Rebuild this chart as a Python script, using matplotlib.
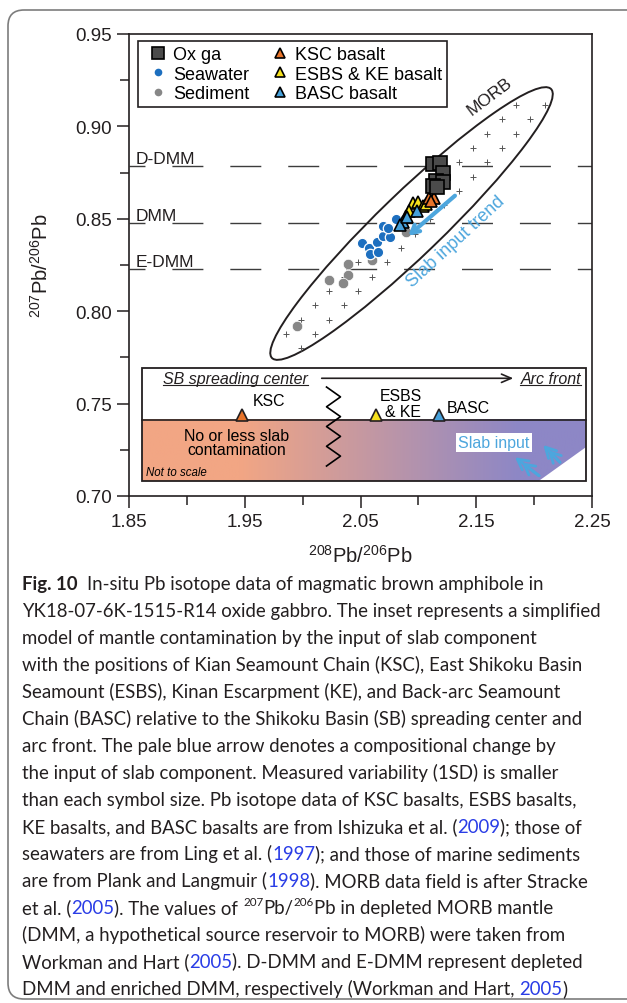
import numpy as np
import matplotlib
matplotlib.use('Agg')
import matplotlib.pyplot as plt
import matplotlib.transforms as mtrans
from matplotlib.patches import Ellipse, Rectangle, Polygon, FancyBboxPatch
from matplotlib.lines import Line2D
from matplotlib.ticker import MultipleLocator, FormatStrFormatter
from matplotlib.font_manager import FontProperties

plt.rcParams['font.family'] = ['Liberation Sans', 'DejaVu Sans']
plt.rcParams['mathtext.fontset'] = 'custom'
plt.rcParams['mathtext.rm'] = 'Liberation Sans'
plt.rcParams['mathtext.it'] = 'Liberation Sans:italic'

# ---- data (208Pb/206Pb, 207Pb/206Pb) ----
oxga_x = [2.1124, 2.1187, 2.1215, 2.1152, 2.1210, 2.1124, 2.1163]
oxga_y = [0.8797, 0.8802, 0.8748, 0.8706, 0.8698, 0.8676, 0.8670]
sea_x = [2.0510, 2.0576, 2.0582, 2.0640, 2.0654, 2.0697, 2.0692, 2.0755, 2.0804, 2.0740]
sea_y = [0.8367, 0.8340, 0.8310, 0.8373, 0.8319, 0.8409, 0.8463, 0.8400, 0.8499, 0.8449]
sed_x = [2.0388, 2.0226, 2.0388, 2.0346, 2.0601, 1.9954, 2.0893]
sed_y = [0.8257, 0.8167, 0.8194, 0.8154, 0.8279, 0.7918, 0.8427]
ksc_x = [2.1092, 2.1139, 2.1110]
ksc_y = [0.8610, 0.8613, 0.8596]
esbs_x = [2.0956, 2.0999, 2.1036, 2.1062, 2.0893, 2.0919]
esbs_y = [0.8583, 0.8591, 0.8567, 0.8580, 0.8517, 0.8542]
basc_x = [2.0986, 2.0870, 2.0845, 2.0902]
basc_y = [0.8544, 0.8481, 0.8464, 0.8510]

dmm_names = ['D-DMM', 'DMM', 'E-DMM']
dmm_vals = [0.8788, 0.8477, 0.8230]

trend_start = (2.1316, 0.8625)
trend_end = (2.0913, 0.8408)

legend_labels = ['Ox ga', 'Seawater', 'Sediment', 'KSC basalt', 'ESBS & KE basalt', 'BASC basalt']

# colours
c_sq = '#4b4b4b'
c_sea = '#1d6fbf'
c_sed = '#878787'
c_ksc = '#e8742a'
c_esbs = '#f6e11c'
c_basc = '#45a0da'
c_slab = '#4da6dd'
c_ink = '#231f20'

fig = plt.figure(figsize=(6.27, 10.04), dpi=100)
renderer = fig.canvas.get_renderer()

# outer rounded frame
frame = FancyBboxPatch((0.08, 0.04), 6.6, 9.89, boxstyle='round,pad=0,rounding_size=0.16',
                       transform=fig.dpi_scale_trans, facecolor='none', edgecolor='#7d7d7d', lw=1.2)
fig.patches.append(frame)

ax = fig.add_axes([129 / 627, 1 - 497 / 1004, 463 / 627, 462 / 1004])
tA = ax.transAxes
ax.set_xlim(1.85, 2.25)
ax.set_ylim(0.70, 0.95)


def underlined(x, y, s, **kw):
    t = ax.text(x, y, s, transform=tA, ha='center', va='center', style='italic', **kw)
    bb = t.get_window_extent(renderer).transformed(tA.inverted())
    ax.plot([bb.x0, bb.x1], [bb.y0 + 0.002, bb.y0 + 0.002], transform=tA, color=c_ink, lw=0.8,
            zorder=9)
    return t


# ---- inset (schematic) in axes fraction ----
ix0, ix1 = 0.0287, 0.9864
iy0, iym, iy1 = 0.0318, 0.1645, 0.2781
ax.add_patch(Rectangle((ix0, iym), ix1 - ix0, iy1 - iym, transform=tA, fc='white', ec='none', zorder=5))
left_rgb = np.array([242, 166, 132]) / 255
right_rgb = np.array([141, 135, 198]) / 255
u = np.linspace(0, 1, 400)
w = np.clip((u - 0.22) / (0.85 - 0.22), 0, 1)
grad = (left_rgb[None, :] * (1 - w[:, None]) + right_rgb[None, :] * w[:, None])[None, :, :]
ax.imshow(grad, extent=(ix0, ix1, iy0, iym), transform=tA, aspect='auto', zorder=5,
          interpolation='bilinear')
ax.add_patch(Polygon([(0.884, iy0), (ix1, 0.1054), (ix1, iy0)], closed=True, transform=tA,
                     fc='white', ec='none', zorder=6))
ax.add_patch(Rectangle((ix0, iy0), ix1 - ix0, iy1 - iy0, transform=tA, fc='none', ec=c_ink,
                       lw=1.3, zorder=9))
ax.plot([ix0, ix1], [iym, iym], transform=tA, color=c_ink, lw=1.2, zorder=8)
zig_x = [0.4266, 0.4568, 0.4266, 0.4568, 0.4266, 0.4568, 0.4266, 0.4568, 0.4266]
zig_y = [0.2359, 0.2145, 0.1931, 0.1718, 0.1504, 0.1290, 0.1076, 0.0863, 0.0649]
ax.plot(zig_x, zig_y, transform=tA, color='k', lw=1.2, zorder=8)
ax.annotate('', xy=(0.830, 0.2548), xytext=(0.4162, 0.2548), xycoords=tA, textcoords=tA,
            arrowprops=dict(arrowstyle='->,head_length=0.7,head_width=0.3', lw=1.2, color=c_ink,
                            shrinkA=0, shrinkB=0), zorder=8)
underlined(0.2307, 0.2548, 'SB spreading center', fontsize=11.5, color=c_ink, zorder=9)
underlined(0.911, 0.2548, 'Arc front', fontsize=11.5, color=c_ink, zorder=9)
for xpos, col in [(0.2434, c_ksc), (0.5335, c_esbs), (0.6695, c_basc)]:
    ax.plot([xpos], [iym + 0.0115], transform=tA, ls='none', marker='^', ms=8, mfc=col,
            mec=c_ink, mew=1.2, zorder=9, clip_on=False)
ax.text(0.3030, 0.2063, 'KSC', transform=tA, ha='center', va='center', fontsize=11.4, zorder=9)
ax.text(0.5870, 0.2186, 'ESBS', transform=tA, ha='center', va='center', fontsize=11.4, zorder=9)
ax.text(0.5925, 0.1825, '& KE', transform=tA, ha='center', va='center', fontsize=11.4, zorder=9)
ax.text(0.7322, 0.1905, 'BASC', transform=tA, ha='center', va='center', fontsize=11.4, zorder=9)
ax.text(0.2326, 0.1320, 'No or less slab', transform=tA, ha='center', va='center', fontsize=11.4, zorder=9)
ax.text(0.2326, 0.1002, 'contamination', transform=tA, ha='center', va='center', fontsize=11.4, zorder=9)
ax.text(0.0367, 0.0526, 'Not to scale', transform=tA, ha='left', va='center', fontsize=8.3,
        style='italic', zorder=9)
ax.text(0.7883, 0.1158, 'Slab input', transform=tA, ha='center', va='center', fontsize=11.5,
        color=c_slab, zorder=9, bbox=dict(boxstyle='square,pad=0.15', fc='white', ec='none'))
for tail, tip in [((0.8856, 0.0439), (0.8337, 0.0838)), ((0.9309, 0.0729), (0.8948, 0.1104))]:
    for k in (0.0, 0.28):
        hx = tip[0] + (tail[0] - tip[0]) * k
        hy = tip[1] + (tail[1] - tip[1]) * k
        ax.annotate('', xy=(hx, hy), xytext=tail, xycoords=tA, textcoords=tA, zorder=8,
                    arrowprops=dict(arrowstyle='->,head_length=0.75,head_width=0.4', lw=2.0,
                                    color=c_slab, shrinkA=0, shrinkB=0))

# ---- MORB field ----
morb = Ellipse((0.6102, 0.5898), 0.838, 0.136, angle=44, transform=tA, fill=False,
               ec=c_ink, lw=1.4, zorder=2)
ax.add_patch(morb)

# '+' fill pattern of the MORB field
inner = Ellipse((0.6102, 0.5898), 0.815, 0.120, angle=44, transform=tA)
ii, jj = np.meshgrid(np.arange(-2, 26), np.arange(-2, 26))
keep = (ii + jj) % 2 == 0
px = 1.9735 + 0.0124 * ii[keep]
py = 0.7800 + 0.00774 * jj[keep]
disp = ax.transData.transform(np.column_stack([px, py]))
inside = inner.contains_points(disp)
ax.plot(px[inside], py[inside], ls='none', marker='+', ms=5, mew=0.7, color='#555555', zorder=2)

# ---- reference lines ----
blend = mtrans.blended_transform_factory(tA, ax.transData)
for name, v in zip(dmm_names, dmm_vals):
    ax.axhline(v, color='#3c3c3c', lw=1.0, linestyle=(10.8, (22.3, 19.4)), zorder=1)
    ax.annotate(name, xy=(0.015, v), xycoords=blend, xytext=(0, 2.2), textcoords='offset points',
                ha='left', va='baseline', fontsize=12.5, color=c_ink)

# ---- data ----
ax.plot(sed_x, sed_y, ls='none', marker='o', ms=7.5, mfc=c_sed, mec='white', mew=0.5, zorder=3)
ax.plot(sea_x, sea_y, ls='none', marker='o', ms=7.5, mfc=c_sea, mec='white', mew=0.9, zorder=3)
ax.plot(esbs_x, esbs_y, ls='none', marker='^', ms=9, mfc=c_esbs, mec='k', mew=1.2, zorder=4)
ax.plot(basc_x, basc_y, ls='none', marker='^', ms=9, mfc=c_basc, mec='k', mew=1.2, zorder=4)
ax.plot(ksc_x, ksc_y, ls='none', marker='^', ms=9, mfc=c_ksc, mec='k', mew=1.2, zorder=4)
ax.plot(oxga_x, oxga_y, ls='none', marker='s', ms=9.5, mfc=c_sq, mec='k', mew=1.2, zorder=4)

ax.annotate('', xy=trend_end, xytext=trend_start,
            arrowprops=dict(arrowstyle='->,head_length=0.55,head_width=0.3', lw=3, color=c_slab,
                            shrinkA=0, shrinkB=0), zorder=4)
ax.text(2.1325, 0.838, 'Slab input trend', rotation=42.5, ha='center', va='center', fontsize=13,
        color=c_slab, zorder=4, rotation_mode='anchor')
ax.text(2.1619, 0.9165, 'MORB', rotation=37, ha='center', va='center', fontsize=12.5,
        color=c_ink, zorder=4, rotation_mode='anchor')

# ---- legend ----
handles = [
    Line2D([], [], ls='none', marker='s', ms=8.5, mfc=c_sq, mec='k', mew=1.2),
    Line2D([], [], ls='none', marker='o', ms=5.5, mfc=c_sea, mec='none'),
    Line2D([], [], ls='none', marker='o', ms=5.5, mfc=c_sed, mec='none'),
    Line2D([], [], ls='none', marker='^', ms=7.5, mfc=c_ksc, mec='k', mew=1.2),
    Line2D([], [], ls='none', marker='^', ms=7.5, mfc=c_esbs, mec='k', mew=1.2),
    Line2D([], [], ls='none', marker='^', ms=7.5, mfc=c_basc, mec='k', mew=1.2),
]
leg = ax.legend(handles, legend_labels, ncol=2, loc='upper left', bbox_to_anchor=(0.020, 0.984),
                borderaxespad=0, frameon=True, fancybox=False, edgecolor=c_ink, fontsize=13,
                handlelength=1.64, handletextpad=0.05, columnspacing=0.84, labelspacing=0.15,
                borderpad=0.25, framealpha=1)
leg.get_frame().set_linewidth(1.2)
leg.set_zorder(10)

# ---- axes styling ----
for s in ax.spines.values():
    s.set_linewidth(1.2)
    s.set_color(c_ink)
ax.xaxis.set_major_locator(MultipleLocator(0.1, offset=0.05))
ax.xaxis.set_minor_locator(MultipleLocator(0.05))
ax.yaxis.set_major_locator(MultipleLocator(0.05))
ax.yaxis.set_minor_locator(MultipleLocator(0.025))
ax.xaxis.set_major_formatter(FormatStrFormatter('%.2f'))
ax.yaxis.set_major_formatter(FormatStrFormatter('%.2f'))
ax.tick_params(which='major', direction='out', length=8.5, width=1.1, labelsize=13.5,
               color=c_ink, labelcolor=c_ink, pad=4)
ax.tick_params(which='minor', direction='out', length=6.5, width=1.1, color=c_ink)
ax.set_xlabel(r'$^{208}$Pb/$^{206}$Pb', fontsize=14.5, color=c_ink)
ax.set_ylabel(r'$^{207}$Pb/$^{206}$Pb', fontsize=14.5, color=c_ink)
ax.xaxis.set_label_coords(0.5, -0.104)
ax.yaxis.set_label_coords(-0.166, 0.5)

# ---- caption ----
caption = [
    [("Fig. 10  ", 'b'), ("In-situ Pb isotope data of magmatic brown amphibole in", 'n')],
    [("YK18-07-6K-1515-R14 oxide gabbro. The inset represents a simplified", 'n')],
    [("model of mantle contamination by the input of slab component", 'n')],
    [("with the positions of Kian Seamount Chain (KSC), East Shikoku Basin", 'n')],
    [("Seamount (ESBS), Kinan Escarpment (KE), and Back-arc Seamount", 'n')],
    [("Chain (BASC) relative to the Shikoku Basin (SB) spreading center and", 'n')],
    [("arc front. The pale blue arrow denotes a compositional change by", 'n')],
    [("the input of slab component. Measured variability (1SD) is smaller", 'n')],
    [("than each symbol size. Pb isotope data of KSC basalts, ESBS basalts,", 'n')],
    [("KE basalts, and BASC basalts are from Ishizuka et al. (", 'n'), ("2009", 'l'), ("); those of", 'n')],
    [("seawaters are from Ling et al. (", 'n'), ("1997", 'l'), ("); and those of marine sediments", 'n')],
    [("are from Plank and Langmuir (", 'n'), ("1998", 'l'), ("). MORB data field is after Stracke", 'n')],
    [("et al. (", 'n'), ("2005", 'l'), ("). The values of ", 'n'), ("207", 's'), ("Pb/", 'n'),
     ("206", 's'), ("Pb in depleted MORB mantle", 'n')],
    [("(DMM, a hypothetical source reservoir to MORB) were taken from", 'n')],
    [("Workman and Hart (", 'n'), ("2005", 'l'), ("). D-DMM and E-DMM represent depleted", 'n')],
    [("DMM and enriched DMM, respectively (Workman and Hart, ", 'n'), ("2005", 'l'), (")", 'n')],
]

cap_family = ['Lato', 'DejaVu Sans']


def advance(s, fp):
    w1, _, _ = renderer.get_text_width_height_descent('|' + s + '|', fp, ismath=False)
    w0, _, _ = renderer.get_text_width_height_descent('||', fp, ismath=False)
    return w1 - w0


probe = FontProperties(family=cap_family, size=10)
cap_size = 10 * 582 / advance(caption[1][0][0], probe)

link_c = '#2a3de6'
for li, pieces in enumerate(caption):
    x = 22.0
    y = 1004 - (590 + 27 * li)
    for s, kind in pieces:
        size = cap_size * (0.62 if kind == 's' else 1.0)
        fp = FontProperties(family=cap_family, size=size, weight='bold' if kind == 'b' else 'normal')
        col = link_c if kind == 'l' else c_ink
        yy = y + (cap_size * 0.42 * fig.dpi / 72 if kind == 's' else 0)
        fig.text(x / 627, yy / 1004, s, fontproperties=fp, color=col, ha='left', va='baseline')
        x += advance(s, fp)

fig.savefig('out.png', dpi=100)
